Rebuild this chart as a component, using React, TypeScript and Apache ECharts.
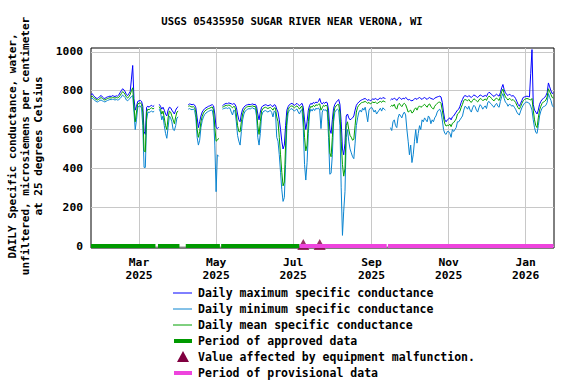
import React, { useEffect, useRef } from "react";
import * as echarts from "echarts";

const TITLE = "USGS 05435950 SUGAR RIVER NEAR VERONA, WI";
const Y_TITLE_LINES = [
  "DAILY Specific conductance, water,",
  "unfiltered, microsiemens per centimeter",
  "at 25 degrees Celsius",
];
const START_DATE = "2025-01-22";
const X_END = "2026-01-23";
const X_TICKS = ["2025-03-01", "2025-05-01", "2025-07-01", "2025-09-01", "2025-11-01", "2026-01-01"];
const MONTHS = ["Jan", "Feb", "Mar", "Apr", "May", "Jun", "Jul", "Aug", "Sep", "Oct", "Nov", "Dec"];
const Y_TICKS = [0, 200, 400, 600, 800, 1000];

const LEGEND_LABELS = [
  "Daily maximum specific conductance",
  "Daily minimum specific conductance",
  "Daily mean specific conductance",
  "Period of approved data",
  "Value affected by equipment malfunction.",
  "Period of provisional data",
];

const N = null;
// one value per day starting 2025-01-22
const dailyMax = [
  780, 785, 775, 768, 762, 760, 765, 770, 776, 768,
  762, 760, 765, 768, 770, 772, 770, 775, 772, 770,
  774, 772, 778, 790, 800, 810, 805, 795, 780, 775,
  785, 795, 860, 930, 760, 700, 720, 745, 748, 750,
  745, 720, 590, 575, 715, 720, 715, 722, 725, 718,
  724, N, N, N, 730, 720, 705, 715, 700, 680,
  670, 700, 715, 712, 700, 690, 680, 700, 712, 718,
  N, N, N, N, N, N, N, 728, 732, 730,
  728, 730, 726, 712, 660, 610, 640, 670, 690, 700,
  708, 712, 716, 720, 722, 726, 728, 722, 680, 610,
  605, 612, N, N, 722, 728, 732, 735, 733, 737,
  735, 733, 730, 734, 730, 715, 680, 650, 640, 680,
  705, 715, 722, 726, 728, 730, 728, 730, 732, 728,
  730, 720, 680, 650, 690, 715, 722, 725, 728, 726,
  722, 725, 728, 722, 718, 728, 725, 705, 690, 650,
  600, 540, 500, 520, 620, 700, 718, 728, 732, 735,
  730, 725, 730, 735, 728, 722, 730, 735, 715, 650,
  600, 640, 700, 725, 735, 730, 740, 735, 742, 738,
  745, 760, 738, 732, 740, 735, 742, 738, 700, 600,
  580, 650, 710, 730, 740, 748, 755, 730, 640, 500,
  470, 530, 670, 680, 660, 650, 655, 660, 670, 700,
  725, 735, 742, 748, 752, 755, 758, 760, 755, 750,
  755, 748, 752, 758, 755, 760, 756, 752, 760, 762,
  758, 765, 762, 760, N, N, N, 752, 758, 755,
  762, 758, 750, 760, 765, 760, 755, 762, 758, 765,
  760, 752, 755, 750, 748, 752, 758, 760, 755, 762,
  765, 760, 755, 762, 765, 760, 755, 762, 765, 760,
  758, 755, 762, 765, 768, 770, 772, 768, 740, 690,
  650, 640, 650, 655, 660, 650, 665, 670, 680, 690,
  700, 705, 720, 740, 755, 770, 775, 772, 768, 775,
  770, 765, 772, 778, 775, 770, 765, 772, 778, 775,
  770, 772, 776, 770, 785, 792, 788, 780, 775, 770,
  778, 782, 776, 772, 790, 815, 832, 805, 790, 780,
  775, 782, 778, 772, 775, 770, 760, 745, 730, 720,
  735, 750, 765, 768, 770, 772, 770, 768, 890, 1012,
  730, 700, 690, 680, 700, 730, 745, 755, 760, 765,
  775, 790, 840, 820, 800, 785, 790,
];
const dailyMean = [
  768, 772, 765, 760, 755, 752, 755, 760, 765, 760,
  755, 752, 756, 760, 762, 764, 762, 766, 764, 762,
  765, 763, 766, 775, 785, 795, 790, 780, 768, 762,
  770, 780, 800, 815, 720, 640, 690, 732, 735, 738,
  730, 690, 490, 485, 690, 705, 702, 708, 712, 706,
  710, N, N, N, 718, 705, 680, 695, 660, 620,
  600, 660, 695, 690, 670, 650, 630, 665, 690, 695,
  N, N, N, N, N, N, N, 720, 722, 718,
  716, 718, 712, 690, 600, 560, 590, 640, 668, 685,
  695, 700, 705, 708, 710, 714, 716, 700, 610, 540,
  545, 555, N, N, 715, 718, 722, 725, 722, 726,
  724, 718, 712, 720, 715, 680, 620, 590, 588, 640,
  680, 700, 710, 715, 718, 720, 718, 720, 722, 718,
  720, 700, 620, 575, 640, 695, 708, 712, 715, 712,
  708, 712, 714, 708, 700, 712, 710, 665, 640, 560,
  470, 380, 310, 330, 520, 660, 702, 715, 720, 722,
  718, 712, 718, 722, 715, 705, 716, 720, 675, 560,
  490, 520, 640, 705, 720, 715, 725, 718, 728, 724,
  730, 732, 700, 712, 725, 720, 726, 718, 640, 480,
  460, 560, 680, 712, 722, 728, 730, 690, 540, 420,
  360, 400, 620, 640, 600, 570, 560, 545, 550, 620,
  690, 715, 725, 732, 738, 740, 742, 745, 740, 735,
  740, 732, 736, 742, 738, 742, 736, 735, 742, 745,
  740, 748, 745, 742, N, N, N, 718, 725, 720,
  730, 712, 705, 728, 735, 725, 718, 730, 735, 728,
  710, 690, 695, 700, 685, 690, 705, 712, 700, 715,
  722, 715, 718, 725, 730, 722, 715, 728, 732, 718,
  712, 705, 720, 728, 735, 740, 742, 735, 700, 660,
  630, 618, 622, 620, 628, 615, 632, 636, 645, 655,
  680, 685, 695, 715, 730, 750, 755, 752, 748, 755,
  745, 740, 750, 758, 755, 748, 742, 752, 760, 756,
  750, 752, 758, 750, 765, 772, 768, 760, 752, 748,
  758, 762, 755, 750, 770, 795, 808, 785, 768, 760,
  752, 760, 756, 750, 755, 748, 740, 725, 712, 705,
  718, 735, 748, 755, 758, 760, 758, 755, 752, 760,
  700, 650, 620, 610, 660, 700, 720, 735, 742, 745,
  752, 768, 810, 795, 780, 765, 762,
];
const dailyMin = [
  760, 762, 755, 750, 745, 742, 745, 750, 752, 748,
  745, 742, 746, 750, 752, 755, 754, 756, 755, 752,
  755, 752, 754, 760, 768, 778, 772, 765, 752, 748,
  755, 762, 770, 775, 690, 600, 650, 715, 720, 722,
  710, 620, 405, 405, 650, 690, 688, 692, 695, 690,
  694, N, N, N, 705, 690, 650, 670, 620, 580,
  555, 610, 670, 660, 640, 600, 595, 620, 660, 665,
  N, N, N, N, N, N, N, 705, 708, 704,
  702, 706, 698, 660, 560, 520, 545, 610, 645, 665,
  678, 685, 690, 694, 697, 700, 700, 660, 520, 280,
  470, 462, N, N, 705, 708, 710, 712, 708, 712,
  710, 690, 675, 700, 695, 640, 570, 540, 520, 590,
  650, 680, 695, 700, 705, 708, 706, 710, 712, 706,
  708, 670, 560, 520, 580, 670, 690, 695, 698, 694,
  690, 695, 698, 688, 665, 695, 690, 560, 540, 470,
  380, 290, 230, 250, 420, 620, 685, 700, 705, 708,
  700, 695, 702, 706, 690, 680, 698, 702, 610, 420,
  340, 430, 580, 685, 705, 695, 708, 698, 710, 705,
  712, 700, 605, 690, 705, 698, 702, 690, 560, 370,
  375, 470, 640, 690, 700, 705, 700, 620, 300, 55,
  180, 280, 560, 600, 540, 500, 480, 460, 450, 530,
  620, 660, 690, 700, 690, 710, 700, 715, 680, 640,
  700, 710, 715, 705, 690, 700, 680, 690, 700, 710,
  695, 712, 705, 700, N, N, N, 610, 595, 640,
  650, 620, 610, 660, 680, 670, 660, 680, 690, 675,
  600, 540, 470, 520, 430, 470, 540, 600, 530, 580,
  620, 600, 650, 640, 660, 650, 640, 670, 660, 630,
  650, 640, 660, 670, 690, 700, 705, 690, 650, 600,
  580, 575, 590, 590, 580, 560, 600, 590, 600, 610,
  640, 640, 650, 660, 670, 700, 720, 715, 705, 720,
  700, 690, 712, 725, 718, 700, 690, 712, 728, 720,
  705, 715, 722, 708, 740, 745, 735, 730, 720, 715,
  728, 735, 720, 715, 745, 770, 785, 760, 740, 735,
  720, 730, 728, 720, 725, 715, 705, 690, 680, 675,
  695, 712, 725, 735, 740, 742, 738, 735, 720, 700,
  650, 610, 585, 580, 620, 670, 695, 710, 718, 720,
  725, 740, 785, 765, 750, 725, 715,
];

const approvedPeriods = [
  ["2025-01-22", "2025-03-14"],
  ["2025-03-16", "2025-04-02"],
  ["2025-04-07", "2025-05-04"],
  ["2025-05-05", "2025-07-06"],
];
const provisionalPeriods = [
  ["2025-07-06", "2025-09-13"],
  ["2025-09-14", "2026-01-23"],
];
const malfunctionDates = ["2025-07-09", "2025-07-22"];

const COLORS = {
  max: "#0000ff",
  min: "#0a84d0",
  mean: "#00a000",
  approved: "#009900",
  provisional: "#ee44dd",
  malfunction: "#800040",
  grid: "#c8c8c8",
};

const FONT = '"DejaVu Sans Mono", monospace';
const DAY = 86400000;
const ts = (s: string) => Date.parse(s + "T00:00:00Z");
const t0 = ts(START_DATE);
const toPairs = (arr: (number | null)[]) => arr.map((v, i) => [t0 + i * DAY, v]);
const periodData = (periods: string[][]) => {
  const out: any[] = [];
  periods.forEach(([a, b], i) => {
    if (i > 0) out.push([(ts(periods[i - 1][1]) + ts(a)) / 2, null]);
    out.push([ts(a), 0], [ts(b), 0]);
  });
  return out;
};

export default function App() {
  const ref = useRef<HTMLDivElement>(null);
  useEffect(() => {
    if (!ref.current) return;
    const chart = echarts.init(ref.current, undefined, { renderer: "svg" });
    const legendY = [293, 309, 325, 341, 357, 373];
    const legendGraphics: any[] = [];
    const lx1 = 173, lx2 = 192, tx = 198;
    legendGraphics.push(
      { type: "line", shape: { x1: lx1, y1: legendY[0], x2: lx2, y2: legendY[0] }, style: { stroke: COLORS.max, lineWidth: 1 } },
      { type: "line", shape: { x1: lx1, y1: legendY[1], x2: lx2, y2: legendY[1] }, style: { stroke: COLORS.min, lineWidth: 1 } },
      { type: "line", shape: { x1: lx1, y1: legendY[2], x2: lx2, y2: legendY[2] }, style: { stroke: COLORS.mean, lineWidth: 1 } },
      { type: "rect", shape: { x: 174, y: legendY[3] - 2, width: 18, height: 4 }, style: { fill: COLORS.approved } },
      { type: "polygon", shape: { points: [[183, legendY[4] - 6], [189, legendY[4] + 5], [177, legendY[4] + 5]] }, style: { fill: COLORS.malfunction } },
      { type: "rect", shape: { x: 174, y: legendY[5] - 2, width: 18, height: 4 }, style: { fill: COLORS.provisional } }
    );
    LEGEND_LABELS.forEach((label, i) => {
      legendGraphics.push({
        type: "text",
        x: tx,
        y: legendY[i],
        style: { text: label, font: `bold 11.5px ${FONT}`, fill: "#000", align: "left", verticalAlign: "middle" },
      });
    });

    chart.setOption({
      animation: false,
      backgroundColor: "#fff",
      grid: { left: 91, right: 22, top: 48, bottom: 136, show: true, borderColor: "#000", borderWidth: 1, backgroundColor: "transparent" },
      graphic: [
        {
          type: "text",
          x: 292,
          y: 21,
          style: { text: TITLE, font: `bold 10.6px ${FONT}`, fill: "#000", align: "center", verticalAlign: "middle" },
        },
        {
          type: "text",
          x: 25,
          y: 146,
          rotation: Math.PI / 2,
          style: {
            text: Y_TITLE_LINES.join("\n"),
            font: `bold 11px ${FONT}`,
            fill: "#000",
            align: "center",
            verticalAlign: "middle",
            lineHeight: 13,
          },
        },
        ...legendGraphics,
      ],
      xAxis: {
        type: "value",
        min: t0,
        max: ts(X_END) + 10 * 3600000,
        axisLine: { show: false },
        axisTick: { show: false, customValues: X_TICKS.map(ts) },
        splitLine: { show: true, lineStyle: { color: COLORS.grid, width: 1 } },
        axisLabel: {
          customValues: X_TICKS.map(ts),
          formatter: (v: number) => {
            const d = new Date(v);
            return MONTHS[d.getUTCMonth()] + "\n" + d.getUTCFullYear();
          },
          fontFamily: FONT,
          fontWeight: "bold",
          fontSize: 11.3,
          color: "#000",
          lineHeight: 13,
          margin: 8,
          hideOverlap: false,
        },
      },
      yAxis: {
        type: "value",
        min: -10,
        max: 1020,
        axisLine: { show: false },
        axisTick: { show: false, customValues: Y_TICKS },
        splitLine: { show: true, lineStyle: { color: COLORS.grid, width: 1 } },
        axisLabel: {
          customValues: Y_TICKS,
          formatter: (v: number) => String(v),
          fontFamily: FONT,
          fontWeight: "bold",
          fontSize: 11.3,
          color: "#000",
          margin: 8,
        },
      },
      series: [
        {
          name: LEGEND_LABELS[0],
          type: "line",
          data: toPairs(dailyMax),
          showSymbol: false,
          lineStyle: { color: COLORS.max, width: 1 },
          z: 3,
        },
        {
          name: LEGEND_LABELS[1],
          type: "line",
          data: toPairs(dailyMin),
          showSymbol: false,
          lineStyle: { color: COLORS.min, width: 1 },
          z: 4,
        },
        {
          name: LEGEND_LABELS[2],
          type: "line",
          data: toPairs(dailyMean),
          showSymbol: false,
          lineStyle: { color: COLORS.mean, width: 1 },
          z: 5,
        },
        {
          name: LEGEND_LABELS[4],
          type: "scatter",
          data: malfunctionDates.map((d) => [ts(d), 0]),
          symbol: "triangle",
          symbolSize: [12, 11],
          symbolOffset: [0, -1.5],
          itemStyle: { color: COLORS.malfunction },
          z: 6,
        },
        {
          name: LEGEND_LABELS[3],
          type: "line",
          data: periodData(approvedPeriods),
          showSymbol: false,
          lineStyle: { color: COLORS.approved, width: 4 },
          z: 7,
        },
        {
          name: LEGEND_LABELS[5],
          type: "line",
          data: periodData(provisionalPeriods),
          showSymbol: false,
          lineStyle: { color: COLORS.provisional, width: 4 },
          z: 7,
        },
      ],
    });
    return () => chart.dispose();
  }, []);
  return <div ref={ref} style={{ position: "fixed", left: 0, top: 0, width: 576, height: 384 }} />;
}
